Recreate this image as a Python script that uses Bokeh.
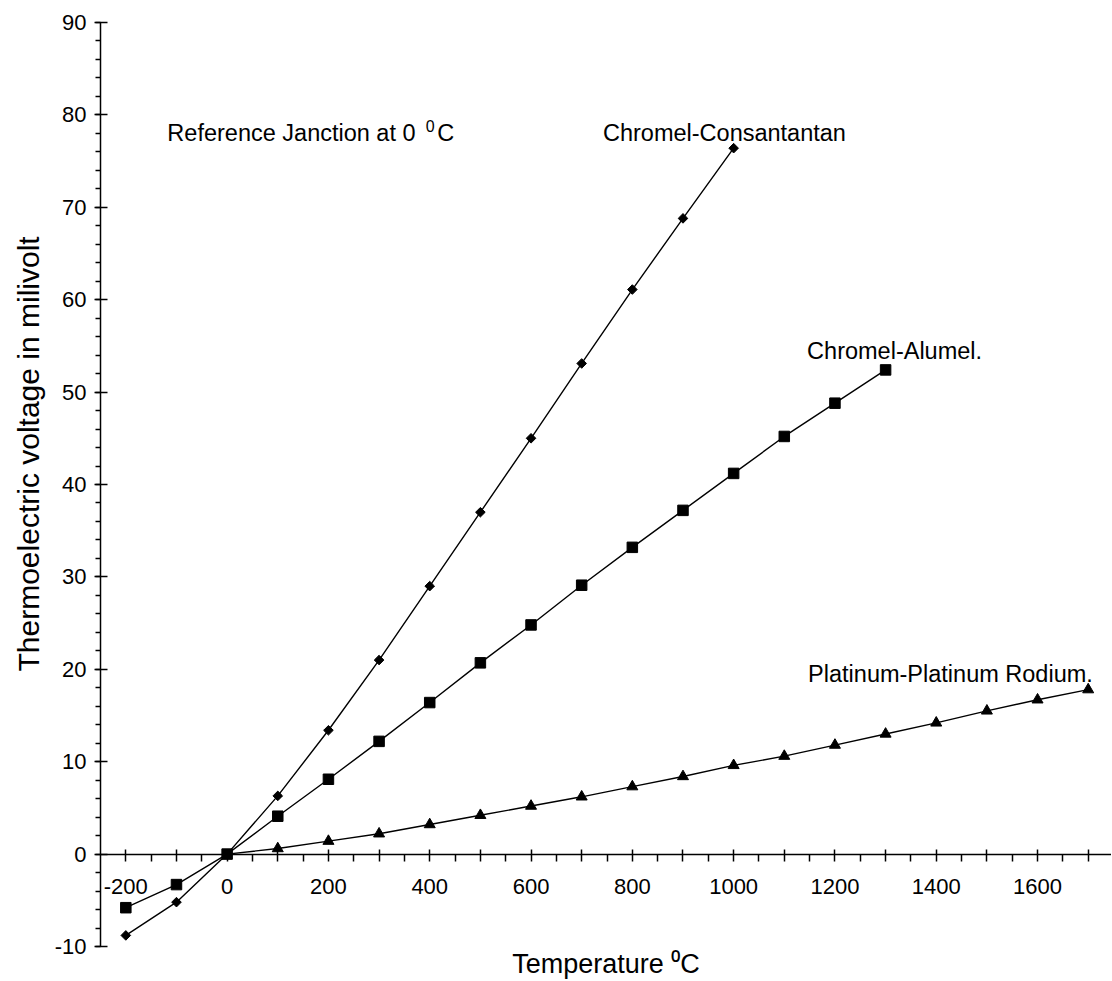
import math
from bokeh.plotting import figure
from bokeh.models import Label, FixedTicker, Range1d, LinearAxis, Title
from bokeh.embed import file_html
from bokeh.resources import INLINE

# ---- data ----
temp_cc = [-200, -100, 0, 100, 200, 300, 400, 500, 600, 700, 800, 900, 1000]
volt_cc = [-8.8, -5.2, 0.0, 6.3, 13.4, 21.0, 29.0, 37.0, 45.0, 53.1, 61.1, 68.8, 76.4]

temp_ca = [-200, -100, 0, 100, 200, 300, 400, 500, 600, 700, 800, 900, 1000, 1100, 1200, 1300]
volt_ca = [-5.8, -3.3, 0.0, 4.1, 8.1, 12.2, 16.4, 20.7, 24.8, 29.1, 33.2, 37.2, 41.2, 45.2, 48.8, 52.4]

temp_pt = [0, 100, 200, 300, 400, 500, 600, 700, 800, 900, 1000, 1100, 1200, 1300, 1400, 1500, 1600, 1700]
volt_pt = [0.0, 0.6, 1.4, 2.2, 3.2, 4.2, 5.2, 6.2, 7.3, 8.4, 9.6, 10.6, 11.8, 13.0, 14.2, 15.5, 16.7, 17.8]

x_major = list(range(-200, 1701, 100))
x_minor = list(range(-150, 1700, 100))
x_labelled = list(range(-200, 1601, 200))
y_major = list(range(-10, 91, 10))
y_minor = list(range(-10, 91, 2))

series_names = ["Chromel-Consantantan", "Chromel-Alumel.", "Platinum-Platinum Rodium."]
x_title = "Temperature \u2070C"
y_title = "Thermoelectric voltage in milivolt"

FONT = "Liberation Sans"

p = figure(width=1111, height=981,
           x_range=Range1d(-250, 1746), y_range=Range1d(-10, 90),
           output_backend="svg", toolbar_location=None,
           min_border_left=100, min_border_right=0,
           min_border_top=22, min_border_bottom=33)
p.xgrid.visible = False
p.ygrid.visible = False
p.outline_line_color = None
p.background_fill_color = "white"
p.border_fill_color = "white"

# x axis crossing at y = 0
xa = p.xaxis[0]
xa.fixed_location = 0
xa.ticker = FixedTicker(ticks=x_major, minor_ticks=x_minor)
xa.major_label_overrides = {t: (str(t) if t in x_labelled else "") for t in x_major}
xa.axis_line_width = 1.5
xa.axis_line_color = "black"
xa.major_tick_line_width = 1.5
xa.minor_tick_line_width = 1.5
xa.major_tick_line_color = "black"
xa.minor_tick_line_color = "black"
xa.major_tick_in = 5
xa.major_tick_out = 7
xa.minor_tick_in = 0
xa.minor_tick_out = 7
xa.major_label_standoff = 18
xa.major_label_text_font = FONT
xa.major_label_text_font_size = "22px"
xa.major_label_text_color = "black"

ya = p.yaxis[0]
ya.ticker = FixedTicker(ticks=y_major, minor_ticks=y_minor)
ya.major_label_overrides = {t: str(t) for t in y_major}
ya.axis_line_width = 1.5
ya.axis_line_color = "black"
ya.major_tick_line_width = 1.5
ya.minor_tick_line_width = 1.5
ya.major_tick_line_color = "black"
ya.minor_tick_line_color = "black"
ya.major_tick_in = 7
ya.major_tick_out = 6
ya.minor_tick_in = 0
ya.minor_tick_out = 5
ya.major_label_standoff = 8
ya.major_label_text_font = FONT
ya.major_label_text_font_size = "22px"
ya.major_label_text_color = "black"

# x title carried by a bare extra axis below the frame
xt = LinearAxis(ticker=FixedTicker(ticks=[]), axis_line_color=None,
                major_tick_out=0, major_tick_in=0, minor_tick_out=0, minor_tick_in=0,
                major_label_standoff=0,
                axis_label=x_title, axis_label_text_font=FONT,
                axis_label_text_font_size="27px", axis_label_text_color="black",
                axis_label_text_font_style="normal", axis_label_standoff=2)
p.add_layout(xt, "below")

# y title as a side title (allows shifting along the axis)
yt = Title(text=y_title, align="left", offset=275, standoff=14,
           text_font=FONT, text_font_size="30px", text_font_style="normal",
           text_color="black")
p.add_layout(yt, "left")

# lines
for xs, ys in [(temp_cc, volt_cc), (temp_ca, volt_ca), (temp_pt, volt_pt)]:
    p.line(xs, ys, line_color="black", line_width=1.4)

# markers
p.scatter(temp_pt[1:], volt_pt[1:], marker="triangle", size=11, color="black")
p.scatter(temp_cc, volt_cc, marker="square", angle=math.pi / 4, size=6.8, color="black")
p.scatter(temp_ca, volt_ca, marker="square", size=10.5, color="black")

def lab(x, y, text, size):
    p.add_layout(Label(x=x, y=y, text=text, text_font=FONT, text_font_size=size,
                       text_color="black", text_baseline="alphabetic", text_align="left"))

# series annotations
lab(742, 78.05, series_names[0], "23.5px")
lab(1145, 54.4, series_names[1], "23.5px")
lab(1147, 19.5, series_names[2], "23.5px")

# reference junction note
lab(-118, 78.05, "Reference Janction at 0", "23.5px")
lab(392, 78.8, "0", "16px")
lab(415, 78.05, "C", "23.5px")

open("out.html", "w").write(file_html(p, INLINE))
